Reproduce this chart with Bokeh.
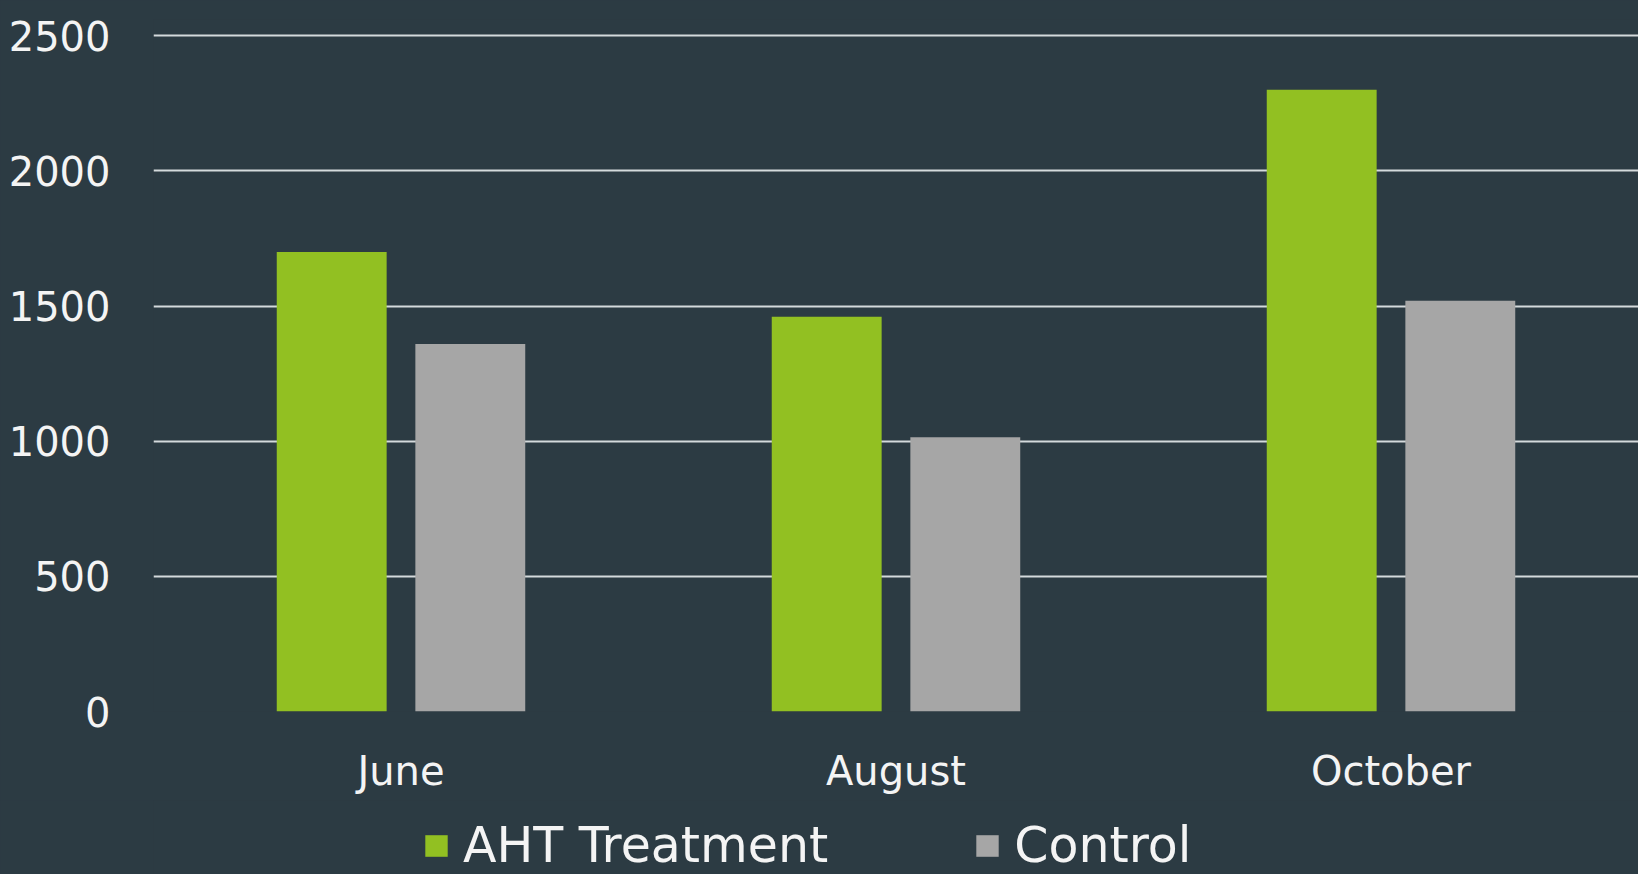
from bokeh.plotting import figure
from bokeh.layouts import column
from bokeh.models import (ColumnDataSource, FactorRange, Range1d, FixedTicker,
                          Legend, LegendItem, GlobalInlineStyleSheet)
from bokeh.transform import dodge
from bokeh.embed import file_html
from bokeh.resources import INLINE

# ---- data ----
months = ["June", "August", "October"]
aht_treatment = [1700, 1460, 2300]
control = [1360, 1015, 1520]
y_ticks = [0, 500, 1000, 1500, 2000, 2500]
series_names = ["AHT Treatment", "Control"]

BG = "#2c3b43"
GREEN = "#92c022"
GRAY = "#a6a6a6"
GRID = "#d4dadc"
TEXT = "#f4f4f4"
FONT = "DejaVu Sans"

src = ColumnDataSource(dict(month=months, aht=aht_treatment, ctl=control))
xr = FactorRange(*months, range_padding=0)

p = figure(width=1638, height=800, output_backend="svg", toolbar_location=None,
           x_range=xr, y_range=Range1d(0, 2560),
           min_border_left=153, min_border_right=0, min_border_top=19,
           min_border_bottom=89)

p.stylesheets = [GlobalInlineStyleSheet(css="html, body { background-color: #2c3b43; }")]

p.background_fill_color = BG
p.border_fill_color = BG
p.outline_line_color = None

bar_kw = dict(width=0.222, source=src, line_color=None)
p.vbar(x=dodge("month", -0.14, range=xr), top="aht", fill_color=GREEN, **bar_kw)
p.vbar(x=dodge("month", 0.14, range=xr), top="ctl", fill_color=GRAY, **bar_kw)

# grid
p.xgrid.grid_line_color = None
p.ygrid.grid_line_color = GRID
p.ygrid.grid_line_width = 2
p.yaxis.ticker = FixedTicker(ticks=y_ticks)

# axes
for ax in (p.xaxis[0], p.yaxis[0]):
    ax.axis_line_color = None
    ax.major_tick_line_color = None
    ax.minor_tick_line_color = None
    ax.major_tick_out = 0
    ax.major_tick_in = 0
    ax.major_label_text_color = TEXT
    ax.major_label_text_font = FONT
    ax.major_label_text_font_size = "40px"

p.yaxis.major_label_standoff = 43
p.xaxis.major_label_standoff = 36

# ---- legend strip (separate figure below the chart; its frame lines up with the chart's) ----
leg = figure(width=1638, height=74, output_backend="svg", toolbar_location=None,
             x_range=xr, y_range=Range1d(100000, 100001),
             x_axis_type=None, y_axis_type=None, min_border=0)
leg.background_fill_color = BG
leg.border_fill_color = BG
leg.outline_line_color = None
leg.grid.grid_line_color = None
# same series, far outside the strip's visible y range: only their legend swatches show
l1 = leg.vbar(x=dodge("month", -0.14, range=xr), top="aht", fill_color=GREEN, **bar_kw)
l2 = leg.vbar(x=dodge("month", 0.14, range=xr), top="ctl", fill_color=GRAY, **bar_kw)

legend = Legend(items=[LegendItem(label=series_names[0], renderers=[l1]),
                       LegendItem(label=series_names[1], renderers=[l2])],
                orientation="horizontal", location=(269, 0),
                label_text_font=FONT, label_text_font_size="49px",
                label_text_color=TEXT, glyph_width=28, glyph_height=27,
                label_standoff=13, spacing=145,
                padding=0, margin=0,
                background_fill_alpha=0, border_line_color=None)
leg.add_layout(legend, "center")

layout = column(p, leg, spacing=0)
open("out.html", "w").write(file_html(layout, INLINE))
